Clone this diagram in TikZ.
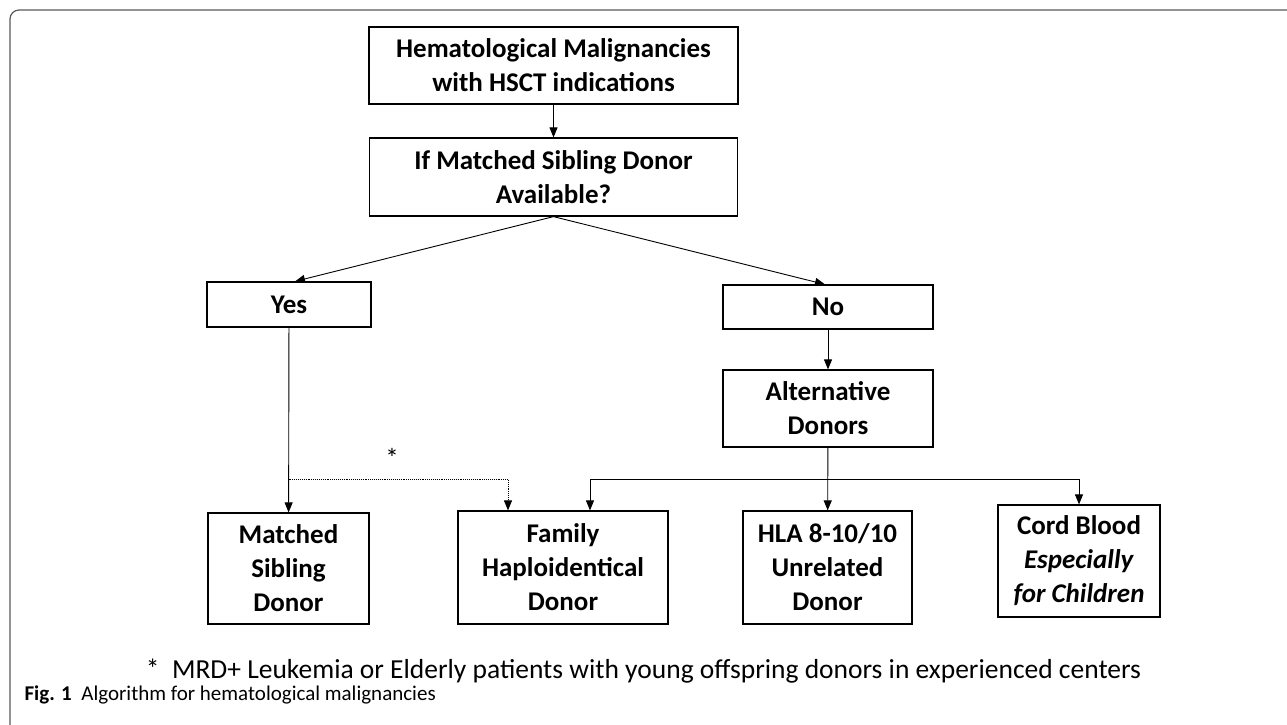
\documentclass[tikz,border=0pt]{standalone}
\usepackage{fontspec}
\setmainfont{Carlito}
\usetikzlibrary{arrows.meta}

\begin{document}
\begin{tikzpicture}[x=1pt,y=-1pt,
  box/.style={draw, line width=1.2pt, align=center, inner sep=0pt,
    font=\fontsize{27}{34}\selectfont\bfseries},
  link/.style={-{Triangle[length=10pt,width=8pt]}, line width=0.9pt}]
  \useasboundingbox (0,0) rectangle (1287,724);

  % outer frame
  \draw[gray!70!black, line width=1.2pt, rounded corners=9pt] (10,10) rectangle (1300,740);

  % decision part
  \node[box, minimum width=369pt, minimum height=77pt] (hm) at (553.5,65.5)
    {Hematological Malignancies\\with HSCT indications};
  \node[box, minimum width=368pt, minimum height=78pt] (q) at (553.5,177)
    {If Matched Sibling Donor\\Available?};
  \node[box, minimum width=164pt, minimum height=45pt] (yes) at (289,304.5) {Yes};
  \node[box, minimum width=210pt, minimum height=44pt] (no) at (828,307) {No};
  \node[box, minimum width=210pt, minimum height=77pt] (alt) at (828,408.5)
    {Alternative\\Donors};

  % donor types
  \node[box, minimum width=161pt, minimum height=111pt] (msd) at (288.5,568.5)
    {Matched\\Sibling\\Donor};
  \node[box, minimum width=210pt, minimum height=113pt] (haplo) at (563,567.5)
    {Family\\Haploidentical\\Donor};
  \node[box, minimum width=169pt, minimum height=113pt] (hla) at (827.5,567.5)
    {HLA 8-10/10\\Unrelated\\Donor};
  \node[box, minimum width=162pt, minimum height=112pt] (cord) at (1079,561)
    {Cord Blood\\\textit{Especially}\\\textit{for Children}};

  % connectors
  \draw[link] (hm) -- (q);
  \draw[link] (q.south) -- ([xshift=6pt]yes.north);
  \draw[link] (q.south) -- ([xshift=-3pt]no.north);
  \draw[link] (no) -- (alt);
  \draw[link] (yes) -- (msd);
  \draw[link] (alt) -- (hla);

  % bus to the alternative donors
  \coordinate (bus) at (828,479);
  \draw[link] (bus) -| ([xshift=27pt]haplo.north);
  \draw[link] (bus) -| (cord.north);

  % dotted branch
  \coordinate (dot) at (288.5,479);
  \draw[link, densely dotted] (dot) -| ([xshift=-55pt]haplo.north);
  \node[font=\fontsize{27}{30}\selectfont] (star) at (392,458) {*};

  % footnote and caption
  \node[font=\fontsize{27.5}{30}\selectfont] (note) at (643.5,671)
    {*\ \ MRD+ Leukemia or Elderly patients with young offspring donors in experienced centers};
  \node[anchor=west, font=\fontsize{21}{24}\selectfont] (cap) at (21,695)
    {\textbf{Fig. 1}\ \ Algorithm for hematological malignancies};
\end{tikzpicture}
\end{document}
